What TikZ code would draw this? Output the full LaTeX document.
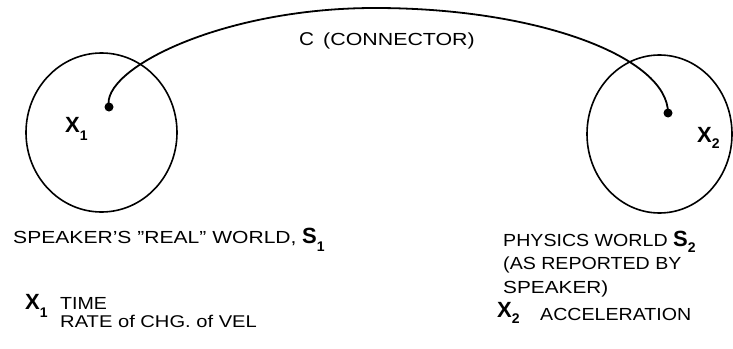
\documentclass[tikz,border=0pt]{standalone}
\usepackage{fontspec}
\setmainfont{Liberation Sans}
\newcommand\lowsub[2]{\raisebox{#1}{\fontsize{14}{14}\selectfont #2}}
\begin{document}
\begin{tikzpicture}[x=1pt,y=-1pt,
  lbl/.style={anchor=base west,inner sep=0pt,font=\fontsize{17.5}{20}\selectfont,xscale=1.12},
  big/.style={anchor=base west,inner sep=0pt,font=\fontsize{22}{24}\selectfont\bfseries},
  ring/.style={draw,line width=1.6pt},
  dotmark/.style={circle,fill,inner sep=0pt,minimum size=9pt},
  link/.style={line width=1.8pt}]
\useasboundingbox (0,0) rectangle (733,348);
% worlds
\draw[ring] (101.5,132.5) ellipse [x radius=75.5, y radius=79.5];
\draw[ring] (659.5,134) ellipse [x radius=72.5, y radius=79];
\node[dotmark] (d1) at (109,107) {};
\node[dotmark] (d2) at (668,113) {};
\coordinate (peak) at (375,8);
\draw[link] (d1.center) .. controls (100,70) and (220,8) .. (peak)
  .. controls (540,8) and (668,58) .. (d2.center);
% connector label
\node[lbl,font=\fontsize{18.5}{20}\selectfont] (c) at (299,45) {C};
\node[lbl,xscale=1.09] (conn) at (323,45) {(CONNECTOR)};
% inside labels
\node[big] (x1) at (65,132) {X\lowsub{-8pt}{1}};
\node[big] (x2) at (697,142) {X\lowsub{-6pt}{2}};
% left text
\node[lbl,xscale=1.075] (s1t) at (13,243) {SPEAKER'S "REAL" WORLD,};
\node[big] (s1) at (302,243) {S\lowsub{-8pt}{1}};
\node[big] (x1b) at (25,309) {X\lowsub{-8pt}{1}};
\node[lbl] (time) at (60,309) {TIME};
\node[lbl,xscale=1.058,font=\fontsize{17}{20}\selectfont] (rate) at (60,327) {RATE of CHG. of VEL};
% right text
\node[lbl] (phys) at (503,246) {PHYSICS WORLD};
\node[big] (s2) at (673,246) {S\lowsub{-6pt}{2}};
\node[lbl] (asrep) at (503,269) {(AS REPORTED BY};
\node[lbl,xscale=1.06] (spk) at (503,293) {SPEAKER)};
\node[big] (x2b) at (497,317) {X\lowsub{-6pt}{2}};
\node[lbl] (acc) at (540,320) {ACCELERATION};
\end{tikzpicture}
\end{document}
